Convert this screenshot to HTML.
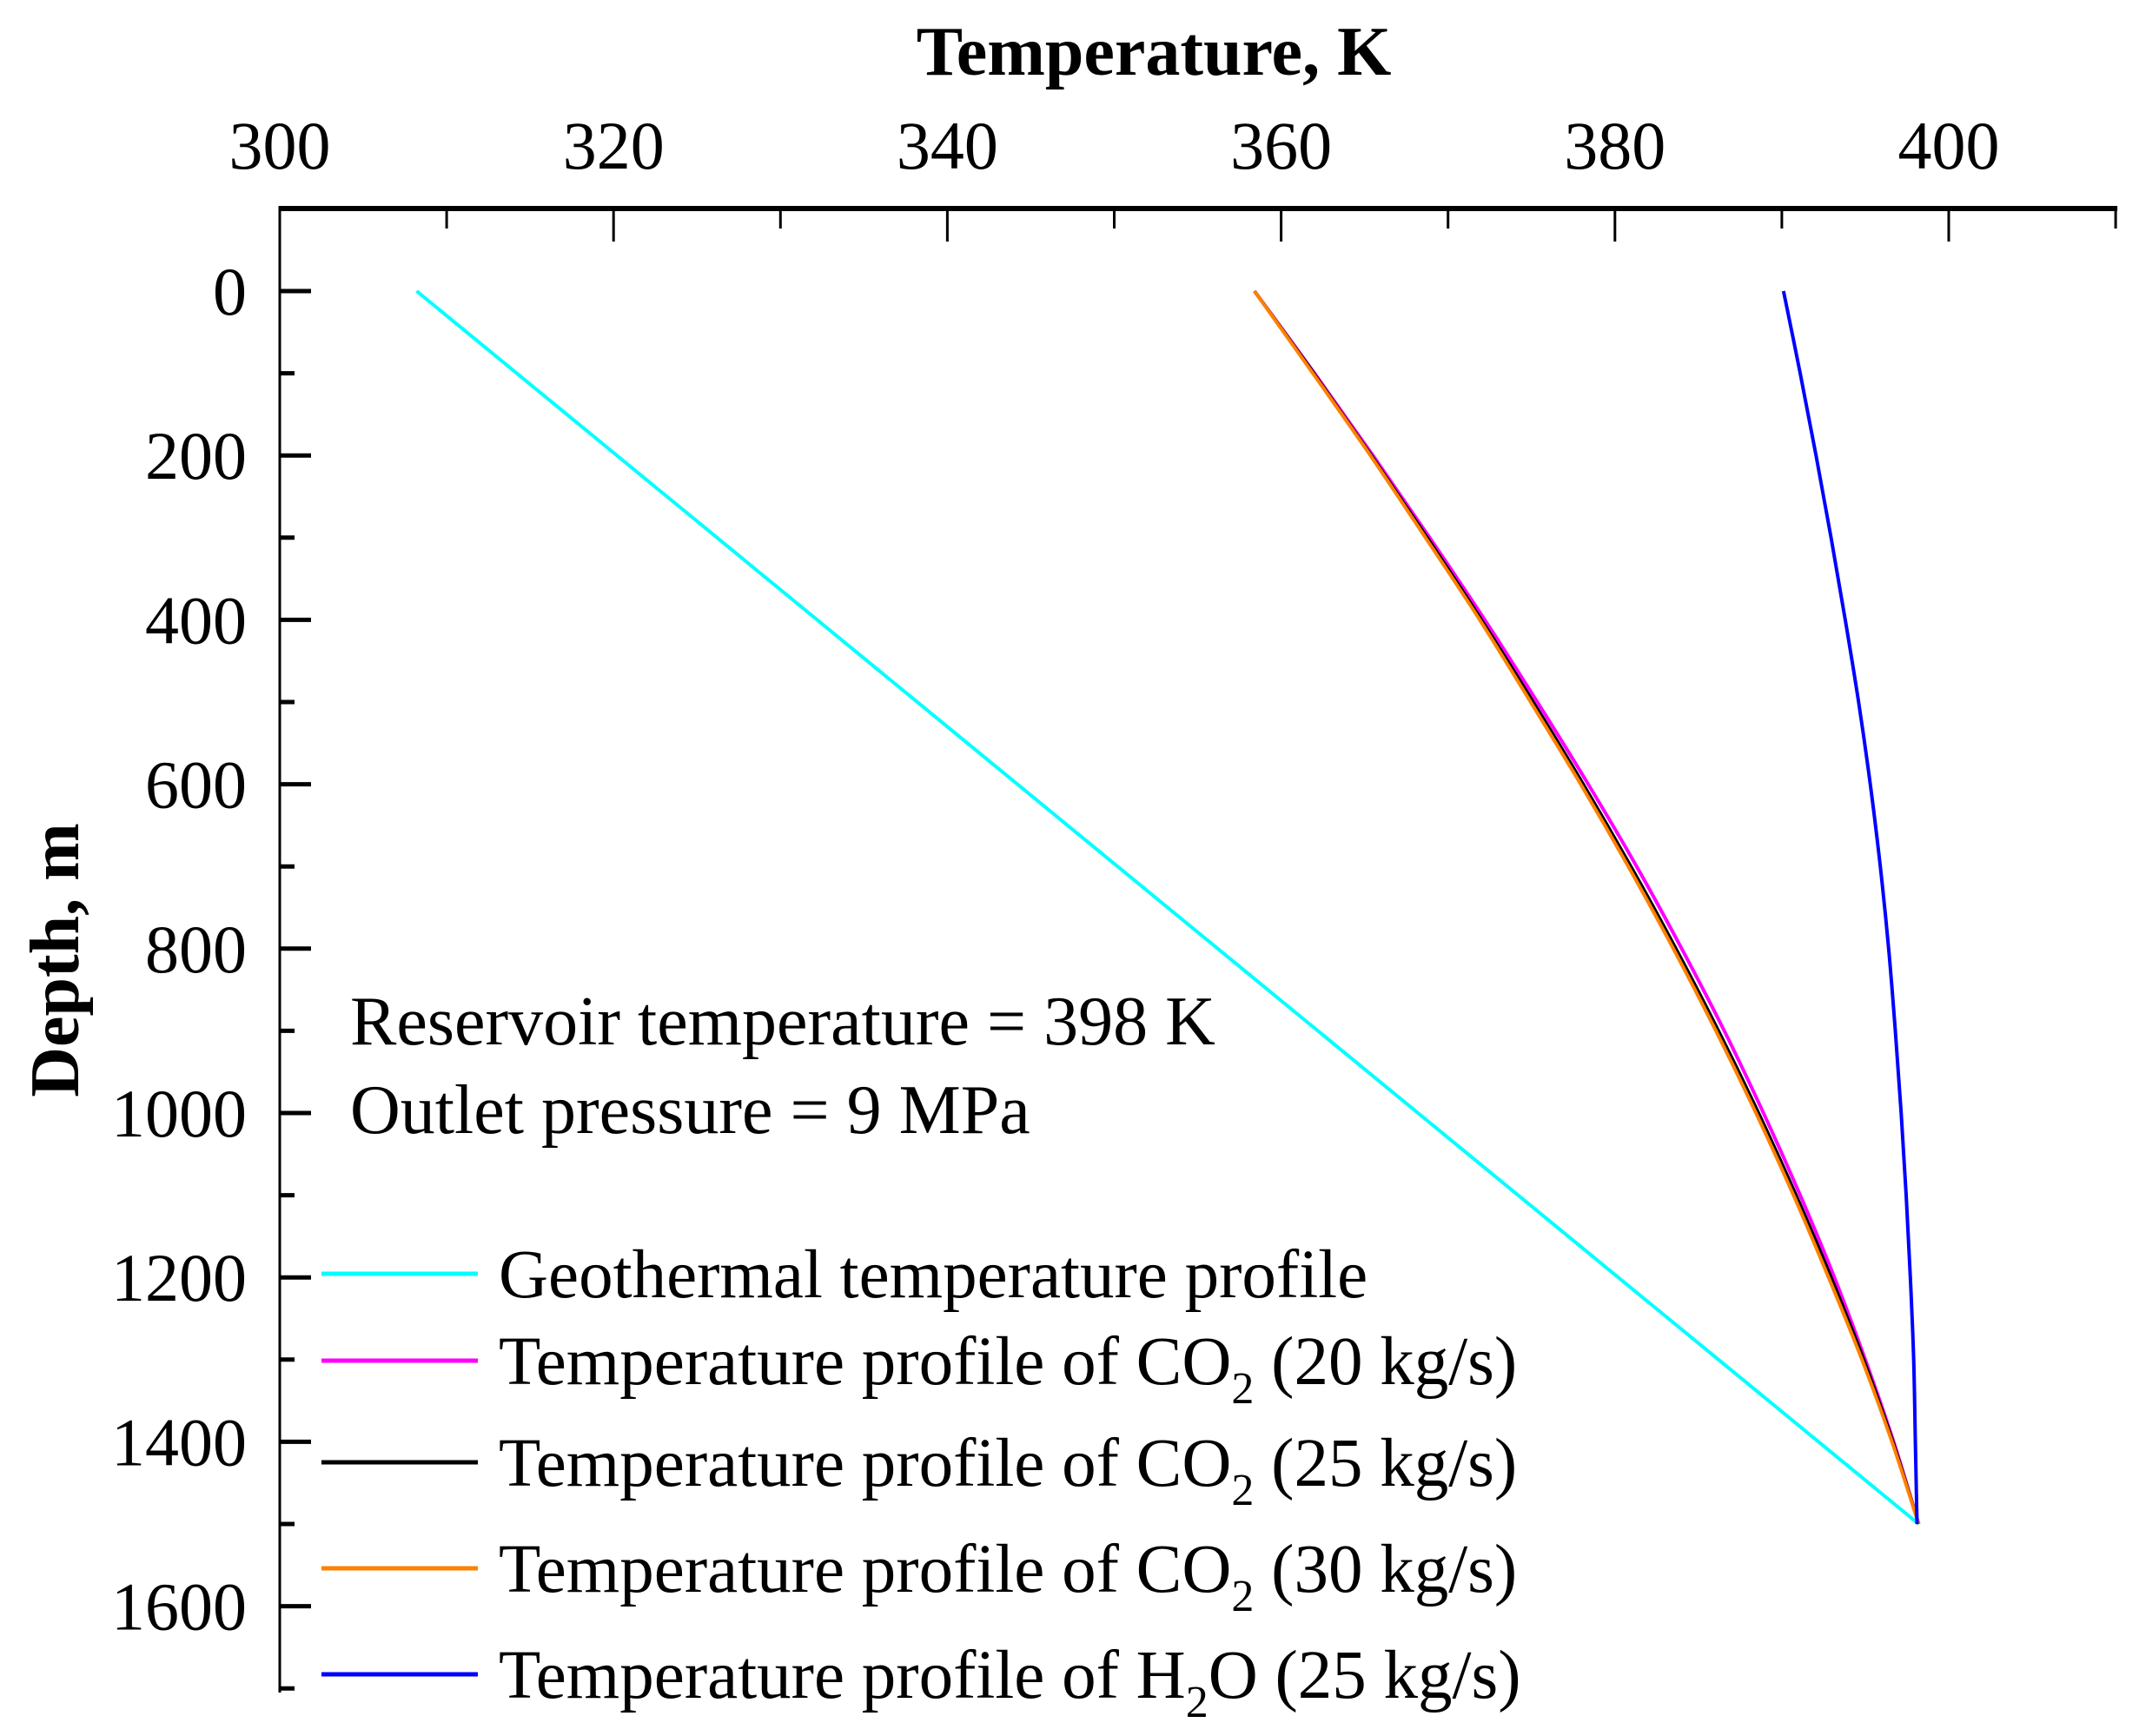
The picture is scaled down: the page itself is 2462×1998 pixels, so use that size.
<!DOCTYPE html>
<html><head><meta charset="utf-8"><style>
html,body{margin:0;padding:0;background:#fff;}
svg{display:block;font-family:"Liberation Serif",serif;}
</style></head><body>
<svg id="chart" width="2462" height="1998" viewBox="0 0 2462 1998" xmlns="http://www.w3.org/2000/svg">
<rect width="2462" height="1998" fill="#fff"/>
<g id="axes"></g>
<g id="series"></g>
<text x="1328" y="86" text-anchor="middle" font-size="80" font-weight="bold">Temperature, K</text>
<text transform="translate(90,1105) rotate(-90)" text-anchor="middle" font-size="80" font-weight="bold">Depth, m</text>
<text x="403" y="1202" font-size="80">Reservoir temperature = 398 K</text>
<text x="403" y="1304" font-size="80">Outlet pressure = 9 MPa</text>
<g id="legend"></g>
</svg>
<script>
const depths = [0,100,200,300,400,500,600,700,800,900,1000,1100,1200,1300,1400,1500];
const geoDepths = [0,1500];
const geoTemps = [308.2,398.2];
const co2_20 = [358.4,362.0,365.5,368.9,372.2,375.35,378.4,381.3,384.0,386.55,388.9,391.1,393.15,395.0,396.7,398.2];
const co2_25 = [358.4,361.95,365.4,368.75,372.0,375.1,378.1,380.95,383.65,386.2,388.6,390.85,392.95,394.9,396.65,398.2];
const co2_30 = [358.4,361.9,365.35,368.65,371.9,374.95,377.95,380.8,383.5,386.05,388.45,390.7,392.8,394.8,396.6,398.2];
const h2oTemps = [390.1,391.1,392.05,392.95,393.8,394.6,395.3,395.9,396.4,396.8,397.15,397.45,397.7,397.9,398.0,398.1];
const xTicks = [300,320,340,360,380,400];
const xMinor = [310,330,350,370,390,410];
const yTicks = [0,200,400,600,800,1000,1200,1400,1600];
const yMinor = [100,300,500,700,900,1100,1300,1500,1700];
const legendLabels = ["Geothermal temperature profile","Temperature profile of CO|2| (20 kg/s)","Temperature profile of CO|2| (25 kg/s)","Temperature profile of CO|2| (30 kg/s)","Temperature profile of H|2|O (25 kg/s)"];

const NS="http://www.w3.org/2000/svg";
const X0=322, X1=2243, Y0=335, PXM=0.946;
function xs(t){return X0+(t-300)*(X1-X0)/100;}
function ys(d){return Y0+d*PXM;}
function mk(tag,attrs,parent){const e=document.createElementNS(NS,tag);for(const k in attrs)e.setAttribute(k,attrs[k]);parent.appendChild(e);return e;}
const axes=document.getElementById('axes');
let e;
e=mk('line',{x1:X0,y1:240,x2:xs(410)+2,y2:240,stroke:'#000','stroke-width':6},axes);


e=mk('line',{x1:X0,y1:237,x2:X0,y2:1948,stroke:'#000','stroke-width':3},axes);


xTicks.forEach(t=>{
  const l=mk('line',{x1:xs(t),y1:240,x2:xs(t),y2:278,stroke:'#000','stroke-width':3},axes);
  
  
  const tx=mk('text',{x:xs(t),y:194,'text-anchor':'middle','font-size':78},axes);
  tx.textContent=t;
  
  
});
xMinor.forEach(t=>{
  const l=mk('line',{x1:xs(t),y1:240,x2:xs(t),y2:263,stroke:'#000','stroke-width':3},axes);
  
  
});
yTicks.forEach(d=>{
  const l=mk('line',{x1:X0,y1:ys(d),x2:X0+36,y2:ys(d),stroke:'#000','stroke-width':5},axes);
  
  
  const tx=mk('text',{x:284,y:ys(d)+27,'text-anchor':'end','font-size':78},axes);
  tx.textContent=d;
  
  
});
yMinor.forEach(d=>{
  const l=mk('line',{x1:X0,y1:ys(d),x2:X0+17,y2:ys(d),stroke:'#000','stroke-width':5},axes);
  
  
});
function pathFrom(ts,ds){
  const p=ts.map((t,i)=>[xs(t),ys(ds[i])]);
  let s='M'+p[0][0]+','+p[0][1];
  for(let i=0;i<p.length-1;i++){
    const a=p[i-1]||p[i],b=p[i],c=p[i+1],d=p[i+2]||c;
    s+=' C'+(b[0]+(c[0]-a[0])/6)+','+(b[1]+(c[1]-a[1])/6)+' '+(c[0]-(d[0]-b[0])/6)+','+(c[1]-(d[1]-b[1])/6)+' '+c[0]+','+c[1];
  }
  return s;
}
const ser=document.getElementById('series');
const defs=[[geoTemps,geoDepths,'#00ffff','geothermal-line'],[co2_20,depths,'#ff00ff','co2-20-line'],[co2_25,depths,'#000000','co2-25-line'],[co2_30,depths,'#ff8000','co2-30-line'],[h2oTemps,depths,'#0000ff','h2o-25-line']];
defs.forEach(s=>{
  const p=mk('path',{d:pathFrom(s[0],s[1]),fill:'none',stroke:s[2],'stroke-width':4},ser);
  
  
});
const leg=document.getElementById('legend');
const rowsY=[1466,1566,1683,1805,1927];
legendLabels.forEach((lab,i)=>{
  const y=rowsY[i];
  const l=mk('line',{x1:370,y1:y,x2:550,y2:y,stroke:defs[i][2],'stroke-width':5},leg);
  
  
  const tx=mk('text',{x:574,y:y+27,'font-size':79},leg);
  
  
  lab.split('|').forEach((part,j)=>{
    const ts=mk('tspan',{},tx);
    if(j===1){ts.setAttribute('font-size','52');ts.setAttribute('dy','22');}
    if(j===2){ts.setAttribute('dy','-22');}
    ts.textContent=part;
  });
});
</script>
</body></html>
